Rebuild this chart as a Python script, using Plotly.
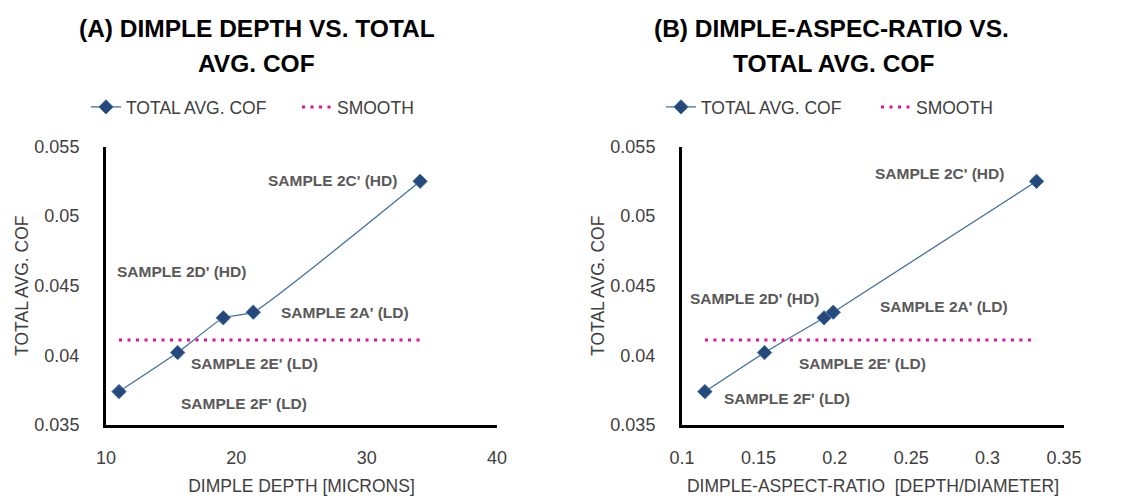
import plotly.graph_objects as go

# Samples in order of increasing dimple depth
samples = ["SAMPLE 2F' (LD)", "SAMPLE 2E' (LD)", "SAMPLE 2D' (HD)",
           "SAMPLE 2A' (LD)", "SAMPLE 2C' (HD)"]
dimple_depth = [11.0, 15.5, 19.0, 21.3, 34.1]          # microns
aspect_ratio = [0.115, 0.154, 0.193, 0.199, 0.332]     # depth / diameter
total_avg_cof = [0.0374, 0.0402, 0.0427, 0.0431, 0.0525]
smooth_cof = 0.0411                                     # smooth (untextured) reference

y_tickvals = [0.035, 0.04, 0.045, 0.05, 0.055]
y_ticktext = ["0.035", "0.04", "0.045", "0.05", "0.055"]
x1_tickvals = [10, 20, 30, 40]
x2_tickvals = [0.1, 0.15, 0.2, 0.25, 0.3, 0.35]
x2_ticktext = ["0.1", "0.15", "0.2", "0.25", "0.3", "0.35"]

# label offsets (pixels) relative to each point, per panel
offsets_a = [(125, 12), (77, 11), (-42, -46), (92, 0), (-88, -1)]
offsets_b = [(82, 7), (98, 11), (-70, -19), (111, -6), (-97, -8)]

FONT = "Liberation Sans, Arial, sans-serif"
LINE_BLUE = "#44719f"
MARK_BLUE = "#24497a"
MAGENTA = "#e0109e"
GREY = "#404040"

fig = go.Figure()

panels = [
    ("x", "y", dimple_depth, "legend"),
    ("x2", "y2", aspect_ratio, "legend2"),
]
for xa, ya, xs, leg in panels:
    fig.add_trace(go.Scatter(
        x=xs, y=total_avg_cof, xaxis=xa, yaxis=ya, mode="lines+markers",
        name="TOTAL AVG. COF", legend=leg,
        line=dict(color=LINE_BLUE, width=1.3, shape="spline", smoothing=0.4),
        marker=dict(symbol="diamond", size=11, color=MARK_BLUE,
                    line=dict(color="#3d6ba3", width=1)),
    ))
    fig.add_trace(go.Scatter(
        x=[xs[0], xs[-1]], y=[smooth_cof, smooth_cof], xaxis=xa, yaxis=ya,
        mode="lines", name="SMOOTH", legend=leg,
        line=dict(color=MAGENTA, width=3, dash="3px,5.5px"),
    ))

annotations = []
for xs, offs, xr, yr in [(dimple_depth, offsets_a, "x", "y"),
                         (aspect_ratio, offsets_b, "x2", "y2")]:
    for name, xv, yv, (dx, dy) in zip(samples, xs, total_avg_cof, offs):
        annotations.append(dict(
            x=xv, y=yv, xref=xr, yref=yr, text=name, showarrow=False,
            xshift=dx, yshift=-dy, xanchor="center", yanchor="middle",
            font=dict(family=FONT, size=15.5, color="#595959", weight="bold"),
        ))

titles = [
    ("(A) DIMPLE DEPTH VS. TOTAL", 256.5, 28),
    ("AVG. COF", 256, 63),
    ("(B) DIMPLE-ASPEC-RATIO VS.", 831, 28),
    ("TOTAL AVG. COF", 833.5, 63),
]
W, H = 1134, 500
for text, px, py in titles:
    annotations.append(dict(
        x=px / W, y=1 - py / H, xref="paper", yref="paper", text=text,
        showarrow=False, xanchor="center", yanchor="middle",
        font=dict(family=FONT, size=24.5, color="#000000", weight="bold"),
    ))

axis_common = dict(
    showline=True, linewidth=3, linecolor="#000000", mirror=False,
    showgrid=False, zeroline=False, ticks="", automargin=False,
    tickfont=dict(family=FONT, size=18, color=GREY),
    title_font=dict(family=FONT, size=17.5, color=GREY),
)
ydom = [(H - 425) / H, (H - 146.5) / H]

legend_common = dict(
    orientation="h", y=1 - 107 / H, xanchor="left", yanchor="middle",
    font=dict(family=FONT, size=17.5, color=GREY), bgcolor="rgba(0,0,0,0)",
    entrywidthmode="pixels",
)

fig.update_layout(
    width=W, height=H,
    margin=dict(l=0, r=0, t=0, b=0, autoexpand=False),
    paper_bgcolor="white", plot_bgcolor="white",
    showlegend=True,
    xaxis=dict(domain=[106 / W, 497 / W], range=[10, 40], tickvals=x1_tickvals,
               anchor="y", ticklabelstandoff=14,
               title=dict(text="DIMPLE DEPTH [MICRONS]", standoff=14), **axis_common),
    yaxis=dict(domain=ydom, range=[0.035, 0.055], tickvals=y_tickvals,
               ticktext=y_ticktext, anchor="x", ticklabelstandoff=20,
               title=dict(text="TOTAL AVG. COF", standoff=2), **axis_common),
    xaxis2=dict(domain=[682 / W, 1064 / W], range=[0.1, 0.35],
                tickvals=x2_tickvals, ticktext=x2_ticktext, anchor="y2",
                ticklabelstandoff=14,
                title=dict(text="DIMPLE-ASPECT-RATIO  [DEPTH/DIAMETER]", standoff=14),
                **axis_common),
    yaxis2=dict(domain=ydom, range=[0.035, 0.055], tickvals=y_tickvals,
                ticktext=y_ticktext, anchor="x2", ticklabelstandoff=20,
                title=dict(text="TOTAL AVG. COF", standoff=2), **axis_common),
    legend=dict(x=86 / W, entrywidth=166, **legend_common),
    legend2=dict(x=661 / W, entrywidth=170, **legend_common),
    annotations=annotations,
)

fig.write_html("out.html")
